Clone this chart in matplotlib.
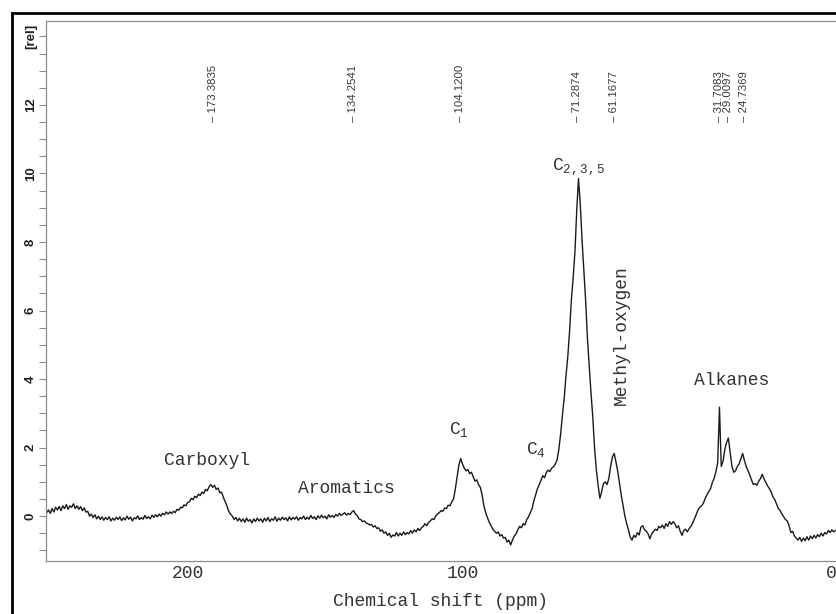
import numpy as np
import matplotlib
matplotlib.use('Agg')
import matplotlib.pyplot as plt
from matplotlib.lines import Line2D
from matplotlib.ticker import MultipleLocator, FixedLocator
import matplotlib.transforms as mtransforms

plt.rcParams['mathtext.fontset'] = 'custom'
plt.rcParams['mathtext.rm'] = 'Liberation Mono'
plt.rcParams['mathtext.it'] = 'Liberation Mono'

# 13C CP/MAS spectrum, sampled every 0.5 ppm from 220 down to -1 ppm
shift = np.arange(220, -1.25, -0.5)
intensity = [
    # 220 .. 210.5
    0.10, 0.18, 0.08, 0.22, 0.12, 0.26, 0.18, 0.28, 0.16, 0.30, 0.22, 0.34, 0.20, 0.30, 0.26, 0.36, 0.22, 0.30, 0.20, 0.28,
    # 210 .. 200.5
    0.16, 0.24, 0.12, 0.14, 0.00, 0.06, -0.04, 0.04, -0.08, 0.00, -0.10, -0.02, -0.12, -0.04, -0.10, -0.02, -0.14, -0.06, -0.12, -0.03,
    # 200 .. 190.5
    -0.10, -0.02, -0.13, -0.05, -0.11, 0.00, -0.09, -0.03, -0.14, -0.05, -0.08, 0.01, -0.10, -0.04, -0.09, 0.02, -0.07, -0.02, -0.08, 0.03,
    # 190 .. 180.5
    -0.04, 0.04, -0.02, 0.06, 0.00, 0.08, 0.04, 0.12, 0.06, 0.12, 0.08, 0.14, 0.10, 0.20, 0.17, 0.26, 0.24, 0.33, 0.30, 0.40,
    # 180 .. 170.5
    0.42, 0.52, 0.48, 0.58, 0.54, 0.64, 0.60, 0.70, 0.66, 0.78, 0.74, 0.86, 0.92, 0.84, 0.90, 0.78, 0.82, 0.68, 0.70, 0.55,
    # 170 .. 160.5
    0.42, 0.30, 0.14, 0.06, 0.00, -0.10, -0.04, -0.14, -0.06, -0.16, -0.08, -0.18, -0.06, -0.15, -0.10, -0.20, -0.08, -0.16, -0.06, -0.14,
    # 160 .. 150.5
    -0.08, -0.18, -0.06, -0.14, -0.04, -0.16, -0.08, -0.12, -0.02, -0.15, -0.06, -0.12, -0.03, -0.10, -0.05, -0.14, -0.02, -0.11, -0.04, -0.09,
    # 150 .. 140.5
    -0.02, -0.12, -0.04, -0.08, 0.00, -0.10, -0.03, -0.09, 0.02, -0.07, -0.02, -0.10, 0.01, -0.06, 0.03, -0.05, 0.00, -0.08, 0.04, -0.03,
    # 140 .. 130.5
    0.02, -0.04, 0.05, 0.00, 0.08, 0.02, 0.06, 0.10, 0.03, 0.08, 0.04, 0.12, 0.16, 0.06, 0.02, -0.08, -0.10, -0.16, -0.14, -0.20,
    # 130 .. 120.5
    -0.22, -0.26, -0.24, -0.32, -0.28, -0.36, -0.34, -0.44, -0.40, -0.50, -0.46, -0.56, -0.50, -0.62, -0.55, -0.58, -0.48, -0.58, -0.50, -0.56,
    # 120 .. 110.5
    -0.46, -0.54, -0.48, -0.52, -0.42, -0.50, -0.40, -0.46, -0.36, -0.42, -0.34, -0.30, -0.22, -0.28, -0.18, -0.14, -0.08, -0.10, 0.00, 0.06,
    # 110 .. 100.5
    0.10, 0.16, 0.14, 0.24, 0.22, 0.32, 0.30, 0.42, 0.50, 0.80, 1.15, 1.50, 1.68, 1.52, 1.40, 1.32, 1.36, 1.24, 1.28, 1.15,
    # 100 .. 90.5
    1.02, 1.06, 0.92, 0.84, 0.62, 0.30, 0.10, -0.05, -0.18, -0.28, -0.38, -0.44, -0.50, -0.46, -0.58, -0.54, -0.64, -0.62, -0.76, -0.70,
    # 90 .. 80.5
    -0.84, -0.70, -0.58, -0.52, -0.40, -0.30, -0.34, -0.22, -0.26, -0.10, -0.02, 0.10, 0.22, 0.45, 0.62, 0.80, 0.92, 1.05, 1.18, 1.12,
    # 80 .. 70.5
    1.28, 1.34, 1.30, 1.40, 1.44, 1.52, 1.64, 1.95, 2.40, 2.95, 3.45, 4.10, 4.65, 5.40, 6.30, 6.95, 7.70, 8.90, 9.85, 9.10,
    # 70 .. 60.5
    8.05, 7.20, 6.30, 5.20, 4.40, 3.60, 2.90, 2.00, 1.35, 0.90, 0.52, 0.72, 0.95, 1.00, 0.92, 1.10, 1.45, 1.72, 1.83, 1.58,
    # 60 .. 50.5
    1.30, 0.95, 0.60, 0.30, 0.00, -0.22, -0.40, -0.62, -0.70, -0.56, -0.62, -0.48, -0.55, -0.32, -0.28, -0.40, -0.44, -0.52, -0.66, -0.52,
    # 50 .. 40.5
    -0.45, -0.38, -0.42, -0.30, -0.34, -0.26, -0.36, -0.22, -0.30, -0.16, -0.24, -0.16, -0.22, -0.34, -0.28, -0.44, -0.56, -0.42, -0.38, -0.46,
    # 40 .. 30.5
    -0.36, -0.30, -0.20, -0.08, 0.05, 0.18, 0.26, 0.30, 0.38, 0.52, 0.62, 0.72, 0.80, 0.98, 1.10, 1.30, 1.55, 3.18, 1.45, 1.60,
    # 30 .. 20.5
    1.95, 2.15, 2.28, 1.85, 1.45, 1.28, 1.32, 1.45, 1.52, 1.68, 1.83, 1.62, 1.45, 1.32, 1.20, 1.05, 0.92, 0.95, 0.90, 1.02,
    # 20 .. 10.5
    1.10, 1.22, 1.08, 0.98, 0.88, 0.80, 0.70, 0.56, 0.48, 0.35, 0.22, 0.16, 0.06, -0.02, -0.10, -0.14, -0.28, -0.48, -0.44, -0.58,
    # 10 .. 0.5
    -0.64, -0.70, -0.62, -0.74, -0.64, -0.72, -0.60, -0.70, -0.58, -0.66, -0.56, -0.64, -0.54, -0.60, -0.50, -0.58, -0.48, -0.52, -0.42, -0.48,
    # 0 .. -1
    -0.40, -0.46, -0.42,
]

# picked peaks shown along the top
peak_ppm = [173.3835, 134.2541, 104.1200, 71.2874, 61.1677, 31.7083, 29.0097, 24.7369]

# assignments
assign_labels = ['Carboxyl', 'Aromatics', r'$\mathrm{C}_{1}$', r'$\mathrm{C}_{4}$',
                 r'$\mathrm{C}_{2,3,5}$', 'Methyl-oxygen', 'Alkanes']
assign_ppm = [175.1, 136.1, 104.5, 82.9, 70.9, 59.1, 28.0]
assign_val = [1.63, 0.82, 2.54, 1.93, 10.2, 5.28, 3.97]
assign_rot = [0, 0, 0, 0, 0, 90, 0]

# scale marks printed under the axis
scale_pos = [180.4, 103.4, 0.3]
scale_labels = ['200', '100', '0']

fig = plt.figure(figsize=(8.36, 6.14), dpi=100)
ax = fig.add_axes([0.055, 0.0863, 0.945, 0.8795])

ax.plot(shift, intensity, color='#1a1a1a', linewidth=1.0)

ax.set_xlim(220.2, -1.15)
ax.set_ylim(-1.31, 14.45)

for side in ['left', 'top', 'bottom']:
    ax.spines[side].set_color('#8c8c8c')
    ax.spines[side].set_linewidth(0.9)
ax.spines['right'].set_visible(False)

# y axis: labelled every 2, minor ticks every 0.5, unit at the top
yt = [0, 2, 4, 6, 8, 10, 12, 14]
ax.yaxis.set_major_locator(FixedLocator(yt))
ax.set_yticklabels(['0', '2', '4', '6', '8', '10', '12', '[rel]'],
                   rotation=90, va='center', fontsize=9.5, fontweight='bold',
                   family='Liberation Sans', color='#222222')
ax.yaxis.set_minor_locator(MultipleLocator(0.5))
ax.tick_params(axis='y', which='major', direction='out', length=5, width=0.8,
               color='#8c8c8c', pad=1.5)
ax.tick_params(axis='y', which='minor', direction='out', length=5, width=0.8,
               color='#8c8c8c')

ax.set_xticks(scale_pos)
ax.set_xticklabels(scale_labels, family='Liberation Mono', fontsize=13, color='#333333')
ax.tick_params(axis='x', length=0, pad=3)
ax.set_xlabel('Chemical shift (ppm)', family='Liberation Mono', fontsize=13,
              color='#333333', labelpad=8)

# peak list along the top
trans = mtransforms.blended_transform_factory(ax.transData, ax.transAxes)
for p in peak_ppm:
    ax.text(p, 0.813, '\u2013 %.4f' % p, rotation=90, ha='center', va='bottom',
            fontsize=8.2, family='Liberation Sans', color='#383838', transform=trans)

for lab, p, v, r in zip(assign_labels, assign_ppm, assign_val, assign_rot):
    ax.text(p, v, lab, rotation=r, ha='center', va='center',
            fontsize=13, family='Liberation Mono', color='#333333')

# outer frame (left and top edges)
fig.add_artist(Line2D([0.0145, 0.0145], [0.0, 0.9795], transform=fig.transFigure,
                      color='black', linewidth=2))
fig.add_artist(Line2D([0.0145, 1.0], [0.9795, 0.9795], transform=fig.transFigure,
                      color='black', linewidth=2))

fig.savefig('out.png', dpi=100)
